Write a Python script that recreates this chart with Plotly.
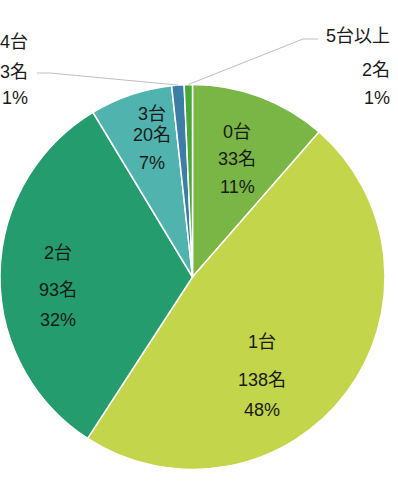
import math
import plotly.graph_objects as go

# ---- data ----
categories = ["0台", "1台", "2台", "3台", "4台", "5台以上"]
counts = [33, 138, 93, 20, 3, 2]
percent_labels = ["11%", "48%", "32%", "7%", "1%", "1%"]
colors = ["#79b646", "#c3d54a", "#249c6e", "#50b3ae", "#3d7ea6", "#4aa839"]

W, H = 398, 490
CX, CY, R = 192.5, 277.0, 192.5

fig = go.Figure(go.Pie(
    labels=categories,
    values=counts,
    sort=False,
    direction="clockwise",
    rotation=0,
    marker=dict(colors=colors, line=dict(color="white", width=1.5)),
    textinfo="none",
    hoverinfo="label+value+percent",
    domain=dict(x=[max(0, (CX - R) / W), min(1, (CX + R) / W)],
                y=[1 - (CY + R) / H, 1 - (CY - R) / H]),
    showlegend=False,
))

total = sum(counts)
font = dict(family="Liberation Sans, Noto Sans CJK JP, sans-serif", size=18, color="#1a1a1a")

def px_to_paper(x, y):
    return x / W, 1 - y / H

# inside label placement: (angle offset deg, radius fraction, line offsets px)
inside_style = {
    0: (0.2, 0.653, [-27, 0, 28]),
    1: (17.8, 0.627, [-34, 4, 34]),
    2: (-5.5, 0.70, [-35, 2, 32]),
    3: (2.5, 0.75, [-24, -3, 25]),
}

annotations = []
shapes = []
cum = 0
mids = []
for i, v in enumerate(counts):
    mids.append((cum + v / 2) / total * 360)
    cum += v

for i, (off, rf, offs) in inside_style.items():
    ang = math.radians(mids[i] + off)
    bx = CX + rf * R * math.sin(ang)
    by = CY - rf * R * math.cos(ang)
    lines = [categories[i], f"{counts[i]}名", percent_labels[i]]
    for txt, dy in zip(lines, offs):
        x, y = px_to_paper(bx, by + dy)
        annotations.append(dict(x=x, y=y, xref="paper", yref="paper", text=txt,
                                showarrow=False, font=font, xanchor="center", yanchor="middle"))

# outside labels: (right edge px, line ys px, leader knee points px)
outside_style = {
    4: (30, [42, 72, 98], [(50, 73), (37, 73)]),
    5: (392, [36, 70, 98], [(303, 39), (318, 39)]),
}
for i, (rx, ys, knees) in outside_style.items():
    lines = [categories[i], f"{counts[i]}名", percent_labels[i]]
    for txt, yy in zip(lines, ys):
        x, y = px_to_paper(rx, yy)
        annotations.append(dict(x=x, y=y, xref="paper", yref="paper", text=txt,
                                showarrow=False, font=font, xanchor="right", yanchor="middle"))
    ang = math.radians(mids[i])
    ex = CX + R * math.sin(ang)
    ey = CY - R * math.cos(ang)
    pts = [(ex, ey)] + knees
    path = "M " + " L ".join(f"{px_to_paper(a, b)[0]:.5f},{px_to_paper(a, b)[1]:.5f}" for a, b in pts)
    shapes.append(dict(type="path", path=path, xref="paper", yref="paper",
                       line=dict(color="#bfbfbf", width=1)))

fig.update_layout(
    width=W, height=H,
    margin=dict(l=0, r=0, t=0, b=0),
    paper_bgcolor="white",
    plot_bgcolor="white",
    annotations=annotations,
    shapes=shapes,
)

fig.write_html("out.html",
               config={"displayModeBar": False},
               post_script="document.body.style.margin='0';document.body.style.overflow='hidden';")
